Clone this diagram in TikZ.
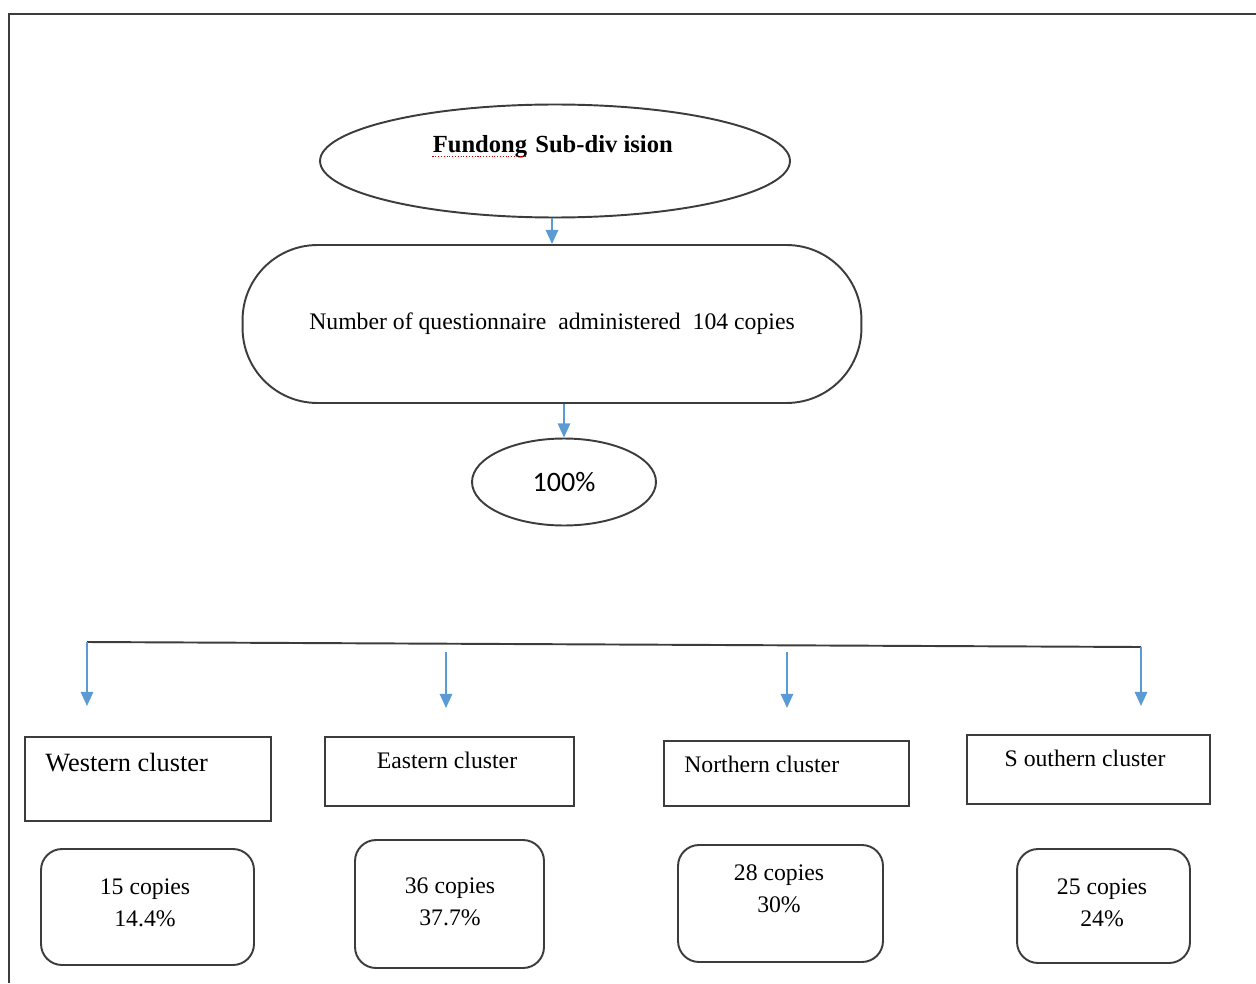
\documentclass[tikz,border=0pt]{standalone}
\usepackage{fontspec}
\setmainfont{Liberation Serif}
\newfontfamily\calibri{Carlito}
\usetikzlibrary{shapes.geometric, positioning, arrows.meta}

\definecolor{framegray}{RGB}{60,60,60}
\definecolor{arrowblue}{RGB}{91,155,213}

\tikzset{
  blob/.style={ellipse, draw=framegray, line width=1.1pt},
  roundbox/.style={draw=framegray, rounded corners=0.42cm, line width=1.1pt},
  clusterbox/.style={draw=framegray, rectangle, line width=1.1pt},
  flow/.style={draw=arrowblue, line width=1.1pt, ->},
  txt/.style={font=\rmfamily\fontsize{13.5}{18.5}\selectfont, align=center, inner sep=0pt}
}

\begin{document}
\begin{tikzpicture}[>={Triangle[length=8pt,width=7pt]}, x=0.02cm, y=-0.02cm]
  \useasboundingbox (0,0) rectangle (1256,983);
  % page frame
  \draw[framegray, line width=1.7pt] (1256,14) -- (9,14) -- (9,983);

  % top part
  \node[blob, minimum width=9.4cm, minimum height=2.26cm] (sub) at (555,161) {};
  \node[txt, font=\rmfamily\bfseries\fontsize{14}{17}\selectfont] (fundong) at (480,147) {Fundong};
  \node[txt, font=\rmfamily\bfseries\fontsize{14}{17}\selectfont, base right=0.15cm of fundong] (subdiv) {Sub-div ision};
  \draw[red!80!black, densely dotted, line width=0.6pt] ([yshift=-2pt]fundong.base west) -- ([yshift=-2pt]fundong.base east);

  \node[roundbox, rounded corners=1.5cm, minimum width=12.38cm, minimum height=3.16cm, txt] (admin) at (552,324)
    {Number of questionnaire\ \ administered\ \ 104 copies};
  \node[blob, minimum width=3.68cm, minimum height=1.74cm, font=\calibri\fontsize{16}{19}\selectfont] (pct) at (564,482) {100\%};

  \draw[flow] (admin.north |- sub.south) -- (admin.north);
  \draw[flow] (pct.north |- admin.south) -- (pct.north);

  % branches
  \coordinate (busW) at (87,642);
  \coordinate (busS) at (1141,647);
  \coordinate (fromE) at (446,652);
  \coordinate (fromN) at (787,652);
  \coordinate (toW) at (87,706);
  \coordinate (toE) at (446,708);
  \coordinate (toN) at (787,708);
  \coordinate (toS) at (1141,706);
  \draw[framegray, line width=1.1pt] (busW) -- (busS);
  \draw[flow] (busW) -- (toW);
  \draw[flow] (fromE) -- (toE);
  \draw[flow] (fromN) -- (toN);
  \draw[flow] (busS) -- (toS);

  % clusters
  \node[clusterbox, minimum width=4.92cm, minimum height=1.68cm] (west) at (148,779) {};
  \node[clusterbox, minimum width=4.98cm, minimum height=1.38cm] (east) at (449.5,771.5) {};
  \node[clusterbox, minimum width=4.9cm, minimum height=1.3cm] (north) at (786.5,773.5) {};
  \node[clusterbox, minimum width=4.86cm, minimum height=1.38cm] (south) at (1088.5,769.5) {};
  \node[txt, font=\rmfamily\fontsize{15}{18}\selectfont, anchor=west] (west-t) at (45,763) {Western cluster};
  \node[txt] (east-t) at (447,760) {Eastern cluster};
  \node[txt, anchor=west] (north-t) at (684,764) {Northern cluster};
  \node[txt] (south-t) at (1085,758) {S outhern cluster};

  % copies
  \node[roundbox, minimum width=4.26cm, minimum height=2.32cm] (west-v) at (147.5,907) {};
  \node[roundbox, minimum width=3.78cm, minimum height=2.56cm] (east-v) at (449.5,904) {};
  \node[roundbox, minimum width=4.1cm, minimum height=2.34cm] (north-v) at (780.5,903.5) {};
  \node[roundbox, minimum width=3.46cm, minimum height=2.28cm] (south-v) at (1103.5,906) {};
  \node[txt] (west-n) at (145,903) {15 copies\\14.4\%};
  \node[txt] (east-n) at (450,902) {36 copies\\37.7\%};
  \node[txt] (north-n) at (779,889) {28 copies\\30\%};
  \node[txt] (south-n) at (1102,903) {25 copies\\24\%};
\end{tikzpicture}
\end{document}
